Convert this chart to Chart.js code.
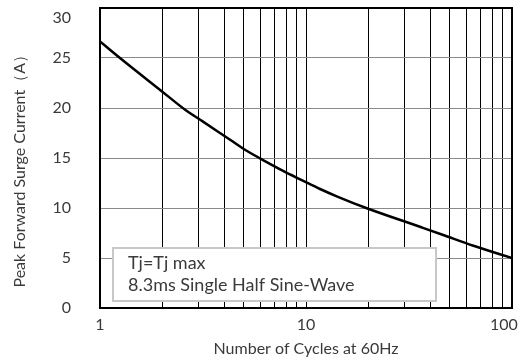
<!DOCTYPE html>
<html>
<head>
<meta charset="utf-8">
<script src="https://cdn.jsdelivr.net/npm/chart.js@4.4.0/dist/chart.umd.min.js"></script>
<style>
  html, body { margin: 0; padding: 0; background: #fff; }
  #wrap { width: 523px; height: 359px; }
</style>
</head>
<body>
<div id="wrap"><canvas id="surgeChart" width="523" height="359"></canvas></div>
<script>
// Values
const cycles = [1, 1.25, 2, 2.6, 3.15, 4.3, 5.2, 6.35, 7.7, 9.65, 11.7, 14.1, 19.6, 36, 46, 65, 100];
const surgeCurrent = [26.66, 25.0, 21.66, 19.8, 18.66, 16.8, 15.67, 14.67, 13.74, 12.74, 11.9, 11.17, 10.0, 8.1, 7.33, 6.23, 5.0];
const xGridTicks = [1, 2, 3, 4, 5, 6, 7, 8, 9, 10, 20, 30, 40, 50, 60, 70, 80, 90, 100];
const xLabelTicks = [1, 10, 100];
const yTicks = [0, 5, 10, 15, 20, 25, 30];
const noteLines = ['Tj=Tj max', '8.3ms Single Half Sine-Wave'];

const FONT = 'Lato, "Open Sans", sans-serif';
const TEXT = '#3a3a3a';

// note box in the lower left of the plot
const notePlugin = {
    id: 'noteBox',
    afterDatasetsDraw(chart) {
        const { ctx, chartArea } = chart;
        const x = chartArea.left + 13, y = chartArea.top + 240;
        const w = 323, h = 53;
        ctx.save();
        ctx.fillStyle = '#fff';
        ctx.fillRect(x, y, w, h);
        ctx.strokeStyle = '#c8c8c8';
        ctx.lineWidth = 2;
        ctx.strokeRect(x, y, w, h);
        ctx.fillStyle = TEXT;
        ctx.font = '18px ' + FONT;
        ctx.textBaseline = 'middle';
        ctx.fillText(noteLines[0], x + 15, y + 15);
        ctx.fillText(noteLines[1], x + 15, y + 37);
        ctx.restore();
    }
};

const ctx = document.getElementById('surgeChart').getContext('2d');
const chart = new Chart(ctx, {
    type: 'line',
    data: {
        datasets: [{
            data: cycles.map((c, i) => ({ x: c, y: surgeCurrent[i] })),
            borderColor: '#000',
            borderWidth: 2.5,
            pointRadius: 0,
            cubicInterpolationMode: 'monotone',
            fill: false
        }]
    },
    options: {
        responsive: false,
        animation: false,
        layout: { padding: { top: 8, right: 11, left: 0, bottom: 0 } },
        plugins: { legend: { display: false }, tooltip: { enabled: false } },
        scales: {
            x: {
                type: 'logarithmic',
                min: 1,
                max: 100,
                afterBuildTicks: s => { s.ticks = xGridTicks.map(v => ({ value: v })); },
                afterFit: s => {
                    s.height = 51;
                    s.paddingLeft = 0;
                    s.paddingRight = 0;
                },
                grid: { color: '#000', lineWidth: 1, drawTicks: false },
                border: { color: '#000', width: 2 },
                ticks: {
                    autoSkip: false,
                    maxRotation: 0,
                    padding: 7,
                    color: TEXT,
                    font: { family: FONT, size: 16 },
                    // last label sits a little inside the right edge
                    callback: v => !xLabelTicks.includes(v) ? '' : (v === 100 ? '100    ' : String(v))
                },
                title: {
                    display: true,
                    text: 'Number of Cycles at 60Hz',
                    color: TEXT,
                    font: { family: FONT, size: 16 },
                    padding: { top: 0, bottom: 1 }
                }
            },
            y: {
                min: 0,
                max: 30,
                afterBuildTicks: s => { s.ticks = yTicks.map(v => ({ value: v })); },
                afterFit: s => {
                    s.width = 100;
                    s.paddingTop = 0;
                    s.paddingBottom = 0;
                },
                grid: { color: '#8a8a8a', lineWidth: 1, drawTicks: false },
                border: { color: '#000', width: 2 },
                ticks: {
                    padding: 29,
                    color: TEXT,
                    font: { family: FONT, size: 16 },
                    // top label is pushed down a bit, as in the original
                    callback: v => v === 30 ? ['', '30'] : String(v)
                },
                title: {
                    display: true,
                    text: '     Peak Forward Surge Current（A）',
                    color: TEXT,
                    font: { family: FONT, size: 16 },
                    align: 'start',
                    padding: { top: 10, bottom: 0 }
                }
            }
        }
    },
    plugins: [notePlugin, {
        id: 'frame',
        afterDraw(c) {
            const a = c.chartArea, g = c.ctx;
            g.save();
            g.strokeStyle = '#000';
            g.lineWidth = 2;
            g.strokeRect(a.left, a.top, a.right - a.left, a.bottom - a.top);
            g.restore();
        }
    }]
});
</script>
</body>
</html>
